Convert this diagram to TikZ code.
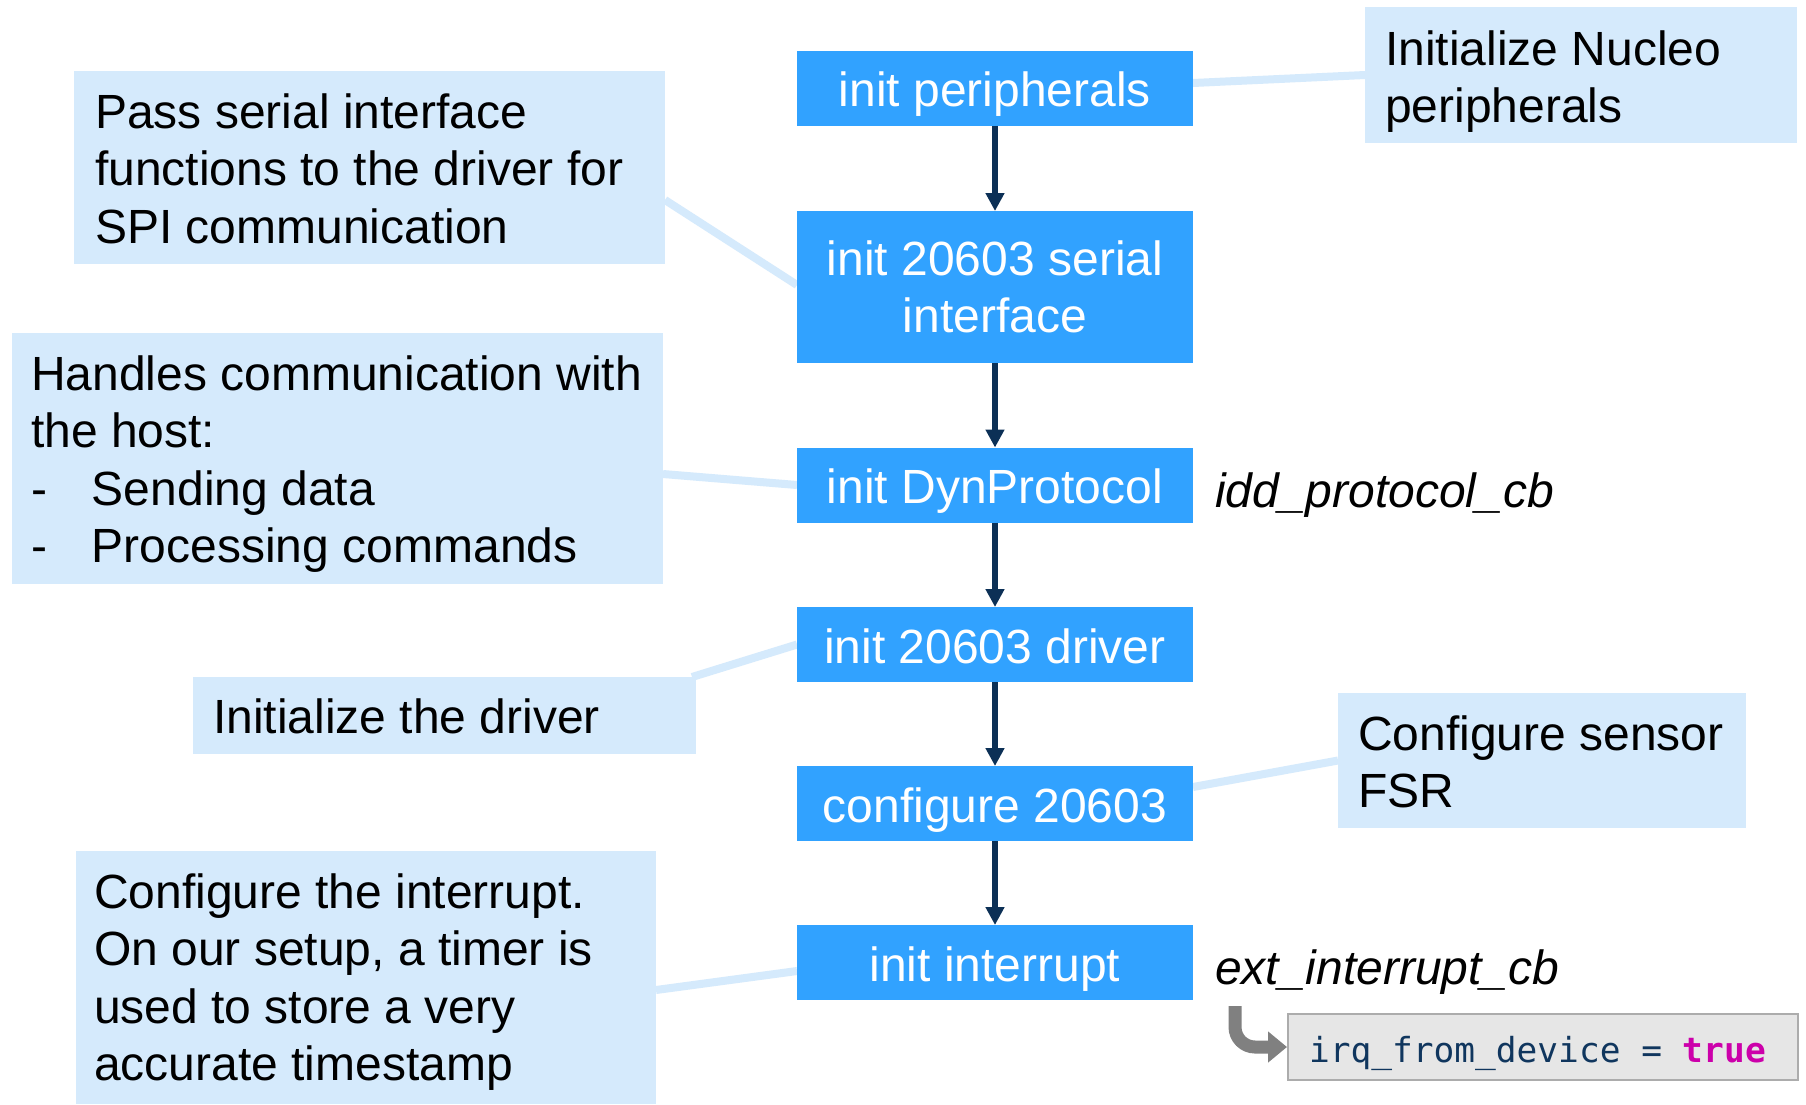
\documentclass[tikz,border=0pt]{standalone}
\usepackage{fontspec}
\setmainfont{Liberation Sans}
\newfontfamily\codefont{DejaVu Sans Mono}
\usetikzlibrary{arrows.meta,backgrounds}

\definecolor{mainblue}{RGB}{49,162,255}
\definecolor{paleblue}{RGB}{213,234,252}
\definecolor{navy}{RGB}{12,48,86}
\definecolor{hookgray}{RGB}{128,128,128}
\definecolor{codefill}{RGB}{230,230,230}
\definecolor{codeborder}{RGB}{172,172,172}
\definecolor{codeblue}{RGB}{16,54,94}
\definecolor{codemagenta}{RGB}{204,0,170}

% one fixed-width blank of the monospaced font
\newcommand{\monosp}{\hspace*{0.602em}}

\begin{document}
\begin{tikzpicture}[x=1pt,y=-1pt,
  bigfont/.style={font=\fontsize{48}{57.5}\selectfont},
  stepbox/.style={bigfont, fill=mainblue, text=white, minimum width=396pt,
    inner sep=0pt, outer sep=0pt, align=center},
  oneline/.style={text height=37pt, text depth=0pt},
  note/.style={fill=paleblue, inner sep=0pt, outer sep=0pt},
  notetext/.style={bigfont, anchor=base west, inner sep=0pt, outer sep=0pt},
  cbtext/.style={notetext, font=\fontsize{48}{57.5}\selectfont\itshape},
  flow/.style={navy, line width=5.5pt, -{Triangle[length=18pt,width=18pt]}},
  tie/.style={paleblue, line width=8pt},
  hook/.style={hookgray, line width=13pt, rounded corners=20pt,
    -{Triangle[length=19pt,width=30pt]}},
  codebox/.style={draw=codeborder, line width=2pt, fill=codefill,
    minimum width=510pt, minimum height=66pt, inner xsep=21pt, inner ysep=0pt,
    text width=468pt, text height=30pt, text depth=0pt, align=left,
    anchor=west, text=codeblue, font=\codefont\fontsize{34.5}{40}\selectfont}
]
\useasboundingbox (0,0) rectangle (1806,1104);

% flow of initialisation steps
\node[stepbox, oneline, minimum height=75pt] (b1) at (995,88)    {init peripherals};
\node[stepbox, minimum height=152pt]         (b2) at (995,287)   {init 20603 serial\\interface};
\node[stepbox, oneline, minimum height=75pt] (b3) at (995,485)   {init DynProtocol};
\node[stepbox, oneline, minimum height=75pt] (b4) at (995,644.5) {init 20603 driver};
\node[stepbox, oneline, minimum height=75pt] (b5) at (995,803.5) {configure 20603};
\node[stepbox, oneline, minimum height=75pt] (b6) at (995,962.5) {init interrupt};

\draw[flow] (b1.south) -- (b2.north);
\draw[flow] (b2.south) -- (b3.north);
\draw[flow] (b3.south) -- (b4.north);
\draw[flow] (b4.south) -- (b5.north);
\draw[flow] (b5.south) -- (b6.north);

% explanatory notes
\node[note, minimum width=432pt, minimum height=136pt] (nucleo)  at (1581,75)    {};
\node[note, minimum width=591pt, minimum height=193pt] (pass)    at (369.5,167.5) {};
\node[note, minimum width=651pt, minimum height=251pt] (handles) at (337.5,458.5) {};
\node[note, minimum width=503pt, minimum height=77pt]  (drv)     at (444.5,715.5) {};
\node[note, minimum width=408pt, minimum height=135pt] (sensor)  at (1542,760.5)  {};
\node[note, minimum width=580pt, minimum height=253pt] (intr)    at (366,977.5)   {};

\node[notetext] (nucleo-t) at (1385,65)
  {\parbox[t]{420pt}{Initialize Nucleo\\peripherals}};
\node[notetext] (pass-t) at (95,128)
  {\parbox[t]{570pt}{Pass serial interface\\functions to the driver for\\SPI communication}};
\node[notetext] (handles-t) at (31,390)
  {\parbox[t]{630pt}{Handles communication with\\the host:\\
   \makebox[61pt][l]{-}Sending data\\\makebox[61pt][l]{-}Processing commands}};
\node[notetext] (drv-t) at (213,733) {Initialize the driver};
\node[notetext] (sensor-t) at (1358,750)
  {\parbox[t]{390pt}{Configure sensor\\FSR}};
\node[notetext] (intr-t) at (94,908)
  {\parbox[t]{560pt}{Configure the interrupt.\\On our setup, a timer is\\used to store a very\\accurate timestamp}};

% callback names
\node[cbtext] (cb-proto) at (1215,507) {idd\_protocol\_cb};
\node[cbtext] (cb-ext)   at (1215,984) {ext\_interrupt\_cb};

% interrupt handler body
\node[codebox] (code) at (1287,1047)
  {irq\char"5F from\char"5F device\monosp=\monosp{\bfseries\color{codemagenta}true}};
\coordinate (hooktop) at (1235,1006);
\draw[hook] (hooktop) |- (code.west);

% leader lines from notes to steps
\begin{scope}[on background layer]
  \fill[white] (0,0) rectangle (1806,1104);
  \draw[tie] ([yshift=5pt]b1.east) -- (nucleo.west);
  \draw[tie] ([yshift=-32.5pt]pass.east) -- ([yshift=2pt]b2.west);
  \draw[tie] ([yshift=-15.5pt]handles.east) -- (b3.west);
  \draw[tie] ([xshift=-4pt]drv.north east) -- (b4.west);
  \draw[tie] ([yshift=16.5pt]b5.east) -- (sensor.west);
  \draw[tie] ([yshift=-12.5pt]intr.east) -- ([yshift=-8.5pt]b6.west);
\end{scope}
\end{tikzpicture}
\end{document}
